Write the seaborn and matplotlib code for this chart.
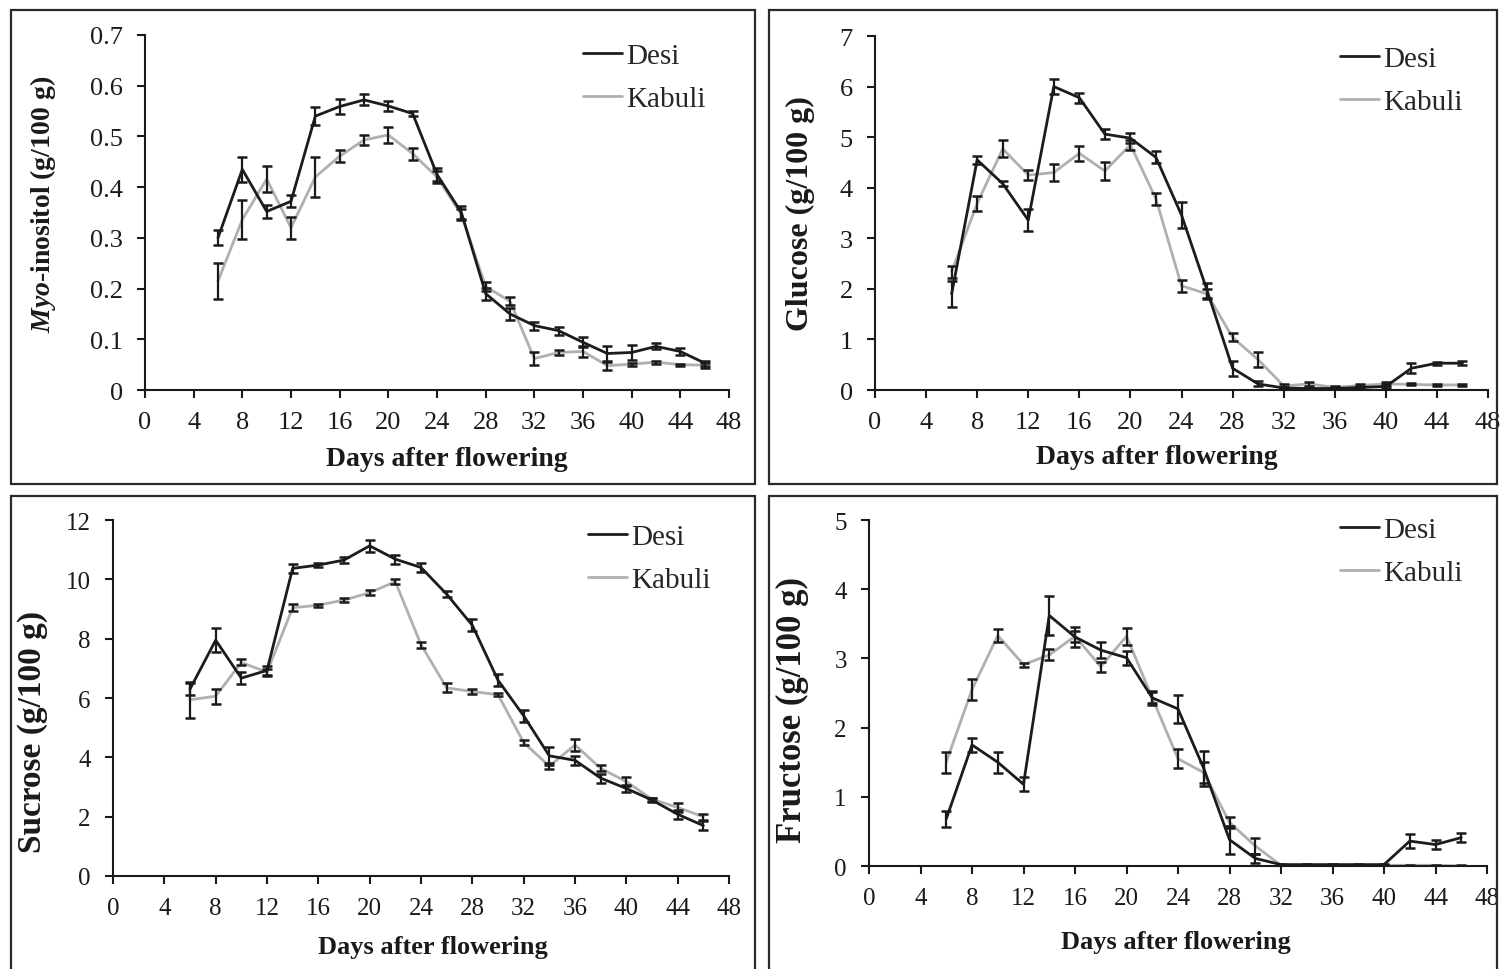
import numpy as np
import pandas as pd
import matplotlib
matplotlib.use("Agg")
import matplotlib.pyplot as plt
from matplotlib.lines import Line2D
from matplotlib.patches import Rectangle
import seaborn as sns

# ---------------- data ----------------
days = [6, 8, 10, 12, 14, 16, 18, 20, 22, 24, 26, 28, 30, 32, 34, 36, 38, 40, 42, 44, 46]

myo_desi = [0.30, 0.435, 0.352, 0.372, 0.54, 0.559, 0.572, 0.56, 0.545, 0.425, 0.35,
            0.19, 0.15, 0.127, 0.117, 0.094, 0.072, 0.074, 0.086, 0.076, 0.053]
myo_desi_err = [0.015, 0.025, 0.012, 0.012, 0.018, 0.015, 0.011, 0.01, 0.005, 0.012, 0.012,
                0.012, 0.012, 0.008, 0.008, 0.01, 0.015, 0.014, 0.006, 0.006, 0.005]
myo_kabuli = [0.215, 0.336, 0.416, 0.32, 0.42, 0.461, 0.493, 0.503, 0.466, 0.42, 0.346,
              0.204, 0.175, 0.062, 0.074, 0.076, 0.048, 0.051, 0.055, 0.05, 0.049]
myo_kabuli_err = [0.036, 0.038, 0.025, 0.022, 0.04, 0.012, 0.01, 0.016, 0.012, 0.012, 0.01,
                  0.008, 0.008, 0.012, 0.004, 0.01, 0.008, 0.003, 0.003, 0.002, 0.005]

glu_desi = [1.9, 4.55, 4.08, 3.36, 6.0, 5.78, 5.06, 4.98, 4.6, 3.46, 1.97,
            0.43, 0.12, 0.04, 0.03, 0.03, 0.05, 0.07, 0.43, 0.53, 0.53]
glu_desi_err = [0.25, 0.08, 0.05, 0.22, 0.15, 0.1, 0.1, 0.1, 0.12, 0.25, 0.15,
                0.15, 0.05, 0.02, 0.02, 0.02, 0.03, 0.04, 0.1, 0.03, 0.04]
glu_kabuli = [2.34, 3.69, 4.77, 4.25, 4.3, 4.68, 4.33, 4.85, 3.78, 2.06, 1.9,
              1.04, 0.6, 0.08, 0.12, 0.05, 0.09, 0.12, 0.11, 0.1, 0.1]
glu_kabuli_err = [0.12, 0.15, 0.17, 0.1, 0.17, 0.15, 0.17, 0.1, 0.12, 0.12, 0.1,
                  0.08, 0.15, 0.03, 0.04, 0.02, 0.03, 0.04, 0.02, 0.02, 0.02]

suc_desi = [6.3, 7.95, 6.67, 6.93, 10.37, 10.48, 10.65, 11.13, 10.68, 10.4, 9.5,
            8.45, 6.6, 5.4, 4.05, 3.9, 3.3, 2.95, 2.56, 2.08, 1.7]
suc_desi_err = [0.2, 0.4, 0.2, 0.15, 0.15, 0.08, 0.1, 0.2, 0.15, 0.15, 0.1,
                0.2, 0.2, 0.2, 0.3, 0.15, 0.15, 0.12, 0.08, 0.15, 0.15]
suc_kabuli = [5.94, 6.06, 7.2, 6.87, 9.04, 9.13, 9.3, 9.55, 9.92, 7.8, 6.34,
              6.22, 6.11, 4.5, 3.7, 4.42, 3.63, 3.18, 2.59, 2.31, 2.0]
suc_kabuli_err = [0.6, 0.25, 0.1, 0.12, 0.12, 0.05, 0.08, 0.08, 0.08, 0.1, 0.15,
                  0.08, 0.05, 0.08, 0.1, 0.2, 0.1, 0.15, 0.05, 0.15, 0.1]

fru_desi = [0.68, 1.75, 1.5, 1.18, 3.62, 3.31, 3.12, 3.01, 2.43, 2.27, 1.41,
            0.38, 0.11, 0.02, 0.02, 0.02, 0.02, 0.02, 0.36, 0.31, 0.41]
fru_desi_err = [0.12, 0.1, 0.15, 0.1, 0.28, 0.15, 0.12, 0.1, 0.1, 0.2, 0.25,
                0.2, 0.06, 0.01, 0.01, 0.01, 0.01, 0.01, 0.1, 0.06, 0.06]
fru_kabuli = [1.5, 2.55, 3.33, 2.91, 3.05, 3.32, 2.88, 3.32, 2.43, 1.55, 1.35,
              0.63, 0.29, 0.01, 0.01, 0.01, 0.01, 0.01, 0.01, 0.01, 0.0]
fru_kabuli_err = [0.15, 0.15, 0.1, 0.03, 0.08, 0.08, 0.07, 0.12, 0.08, 0.14, 0.15,
                  0.08, 0.12, 0.01, 0.01, 0.01, 0.01, 0.01, 0.01, 0.01, 0.01]

cultivars = ["Desi", "Kabuli"]
x_ticks = [0, 4, 8, 12, 16, 20, 24, 28, 32, 36, 40, 44, 48]
x_label = "Days after flowering"

# ---------------- style ----------------
sns.set_theme(style="ticks")
plt.rcParams["font.family"] = ["Liberation Serif", "DejaVu Serif"]
plt.rcParams["mathtext.fontset"] = "custom"
plt.rcParams["mathtext.rm"] = "Liberation Serif:bold"
plt.rcParams["mathtext.it"] = "Liberation Serif:italic:bold"
plt.rcParams["mathtext.bf"] = "Liberation Serif:bold"

W, H = 1501, 970
fig = plt.figure(figsize=(W / 100, H / 100), dpi=100)
fig.patch.set_facecolor("white")

colors = {"Desi": "#1c1c1c", "Kabuli": "#b0b0b0"}

def fx(px):
    return px / W

def fy(py):
    return 1 - py / H

# panel boxes
for (x0, y0, x1, y1) in [(11, 11, 755, 485), (769, 11, 1497, 485),
                         (11, 497, 755, 985), (769, 497, 1497, 985)]:
    fig.add_artist(Rectangle((fx(x0), fy(y1)), fx(x1) - fx(x0), fy(y0) - fy(y1),
                             transform=fig.transFigure, fill=False,
                             edgecolor="#2a2a2a", linewidth=1.6))

panels = [
    dict(pos=(145, 729, 36, 391), ymax=0.7, yticks=[0, 0.1, 0.2, 0.3, 0.4, 0.5, 0.6, 0.7],
         ylabel=r"$\it{Myo}$-inositol (g/100 g)", ylfs=20, ylx=43, yly=204,
         desi=(myo_desi, myo_desi_err), kab=(myo_kabuli, myo_kabuli_err),
         leg=(583, 44), xlx=447, xly=460, xlfs=20, tfs=19),
    dict(pos=(875, 1488, 37, 391), ymax=7, yticks=[0, 1, 2, 3, 4, 5, 6, 7],
         ylabel="Glucose (g/100 g)", ylfs=23, ylx=800, yly=214,
         desi=(glu_desi, glu_desi_err), kab=(glu_kabuli, glu_kabuli_err),
         leg=(1340, 47), xlx=1157, xly=458, xlfs=20, tfs=19),
    dict(pos=(113, 729, 521, 877), ymax=12, yticks=[0, 2, 4, 6, 8, 10, 12],
         ylabel="Sucrose (g/100 g)", ylfs=24, ylx=33, yly=732,
         desi=(suc_desi, suc_desi_err), kab=(suc_kabuli, suc_kabuli_err),
         leg=(588, 525), xlx=433, xly=948, xlfs=19, tfs=18),
    dict(pos=(869, 1487, 521, 867), ymax=5, yticks=[0, 1, 2, 3, 4, 5],
         ylabel="Fructose (g/100 g)", ylfs=25, ylx=792, yly=710,
         desi=(fru_desi, fru_desi_err), kab=(fru_kabuli, fru_kabuli_err),
         leg=(1340, 518), xlx=1176, xly=943, xlfs=19, tfs=18),
]

for p in panels:
    l, r, t, b = p["pos"]
    ax = fig.add_axes([fx(l), fy(b), fx(r) - fx(l), fy(t) - fy(b)])
    ax.set_facecolor("white")
    df = pd.DataFrame({
        "day": days * 2,
        "value": list(p["desi"][0]) + list(p["kab"][0]),
        "err": list(p["desi"][1]) + list(p["kab"][1]),
        "cultivar": ["Desi"] * len(days) + ["Kabuli"] * len(days),
    })
    sns.lineplot(data=df, x="day", y="value", hue="cultivar",
                 hue_order=["Kabuli", "Desi"], palette=colors, linewidth=2.0,
                 errorbar=None, legend=False, ax=ax, zorder=2)
    for c in ["Kabuli", "Desi"]:
        sub = df[df["cultivar"] == c]
        ax.errorbar(sub["day"], sub["value"], yerr=sub["err"], fmt="none",
                    ecolor="#1a1a1a", elinewidth=1.6, capsize=3.5, capthick=1.8,
                    zorder=3)
    ax.set_xlim(0, 48)
    ax.set_ylim(0, p["ymax"])
    ax.set_xticks(x_ticks)
    ax.set_yticks(p["yticks"])
    ax.set_yticklabels([f"{v:g}" for v in p["yticks"]])
    sns.despine(ax=ax)
    for s in ["left", "bottom"]:
        ax.spines[s].set_linewidth(1.5)
        ax.spines[s].set_color("#1a1a1a")
    ax.tick_params(axis="both", direction="out", length=6, width=1.5,
                   color="#1a1a1a", labelsize=p["tfs"], labelcolor="#1a1a1a")
    ax.tick_params(axis="x", pad=9)
    ax.tick_params(axis="y", pad=10)
    ax.set_xlabel("")
    ax.set_ylabel("")
    ax.grid(False)
    # labels
    fig.text(fx(p["xlx"]), fy(p["xly"]), x_label, ha="center", va="center",
             fontsize=p["xlfs"], fontweight="bold", color="#1a1a1a")
    fig.text(fx(p["ylx"]), fy(p["yly"]), p["ylabel"], ha="center", va="center",
             rotation=90, fontsize=p["ylfs"], fontweight="bold", color="#1a1a1a")
    handles = [Line2D([0], [0], color=colors[c], linewidth=2.0) for c in cultivars]
    ax.legend(handles, cultivars, loc="upper left",
              bbox_to_anchor=(fx(p["leg"][0]), fy(p["leg"][1])),
              bbox_transform=fig.transFigure, frameon=False, fontsize=21,
              handlelength=1.35, handletextpad=0.12, labelspacing=0.55,
              borderpad=0, borderaxespad=0)

fig.savefig("out.png", dpi=100, facecolor="white")
